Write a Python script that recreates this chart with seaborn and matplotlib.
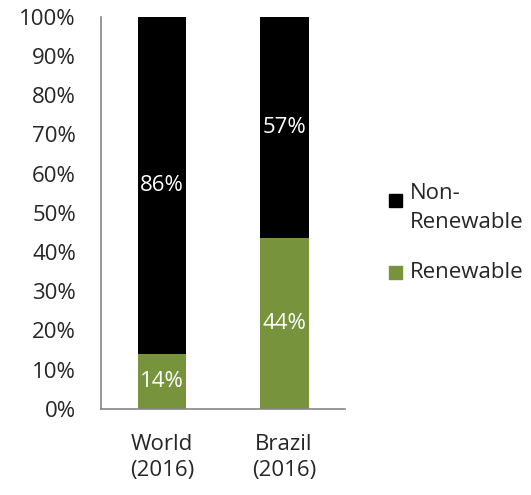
import seaborn as sns
import matplotlib.pyplot as plt
import pandas as pd
from matplotlib.patches import Rectangle

# data
categories = ["World\n(2016)", "Brazil\n(2016)"]
renewable = [14, 43.5]
non_renewable = [86, 56.5]
renewable_labels = ["14%", "44%"]
non_renewable_labels = ["86%", "57%"]
legend_labels = ["Non-\nRenewable", "Renewable"]

green = "#77933C"
grey = "#868686"
fs = 16

sns.set_style("white")
plt.rcParams['font.family'] = ['Open Sans', 'DejaVu Sans']

df = pd.DataFrame({"cat": categories,
                   "ren": renewable,
                   "total": [r + n for r, n in zip(renewable, non_renewable)]})

W, H = 531, 495
fig = plt.figure(figsize=(W / 100, H / 100), dpi=100)
ax = fig.add_axes([0.190, 0.174, 0.460, 0.792])

sns.barplot(data=df, x="cat", y="total", color="black", width=0.4, ax=ax,
            saturation=1, linewidth=0)
sns.barplot(data=df, x="cat", y="ren", color=green, width=0.4, ax=ax,
            saturation=1, linewidth=0)

for i in range(len(categories)):
    ax.text(i, renewable[i] / 2, renewable_labels[i], ha="center", va="center",
            color="white", fontsize=fs)
    ax.text(i, renewable[i] + non_renewable[i] / 2, non_renewable_labels[i],
            ha="center", va="center", color="white", fontsize=fs)

ax.set_xlim(-0.5, 1.5)
ax.set_ylim(0, 100)
ax.set_yticks(range(0, 101, 10))
ax.set_yticklabels([f"{v}%" for v in range(0, 101, 10)], fontsize=fs)
ax.set_xticks([-0.5, 0.5, 1.5])
ax.set_xticklabels([])
ax.set_xticks([0, 1], minor=True)
ax.set_xticklabels(categories, minor=True, fontsize=fs, linespacing=1.3)
ax.tick_params(axis="x", which="minor", length=0, pad=18)
ax.tick_params(axis="both", which="major", direction="out", length=5, width=1.2, color=grey)
ax.tick_params(axis="y", pad=13)
ax.set_xlabel("")
ax.set_ylabel("")

for s in ["top", "right"]:
    ax.spines[s].set_visible(False)
for s in ["left", "bottom"]:
    ax.spines[s].set_color(grey)
    ax.spines[s].set_linewidth(1.2)

# legend drawn by hand so the square sits by the first line, as in the original
sq = 13
for (cx, cy), col, lab, ty in [((395, 201), "black", legend_labels[0], 208),
                               ((395, 272), green, legend_labels[1], 272)]:
    fig.add_artist(Rectangle(((cx - sq / 2) / W, 1 - (cy + sq / 2) / H), sq / W, sq / H,
                             color=col, transform=fig.transFigure))
    fig.text(410 / W, 1 - ty / H, lab, ha="left", va="center", fontsize=fs,
             linespacing=1.45)

fig.savefig("out.png", dpi=100)
